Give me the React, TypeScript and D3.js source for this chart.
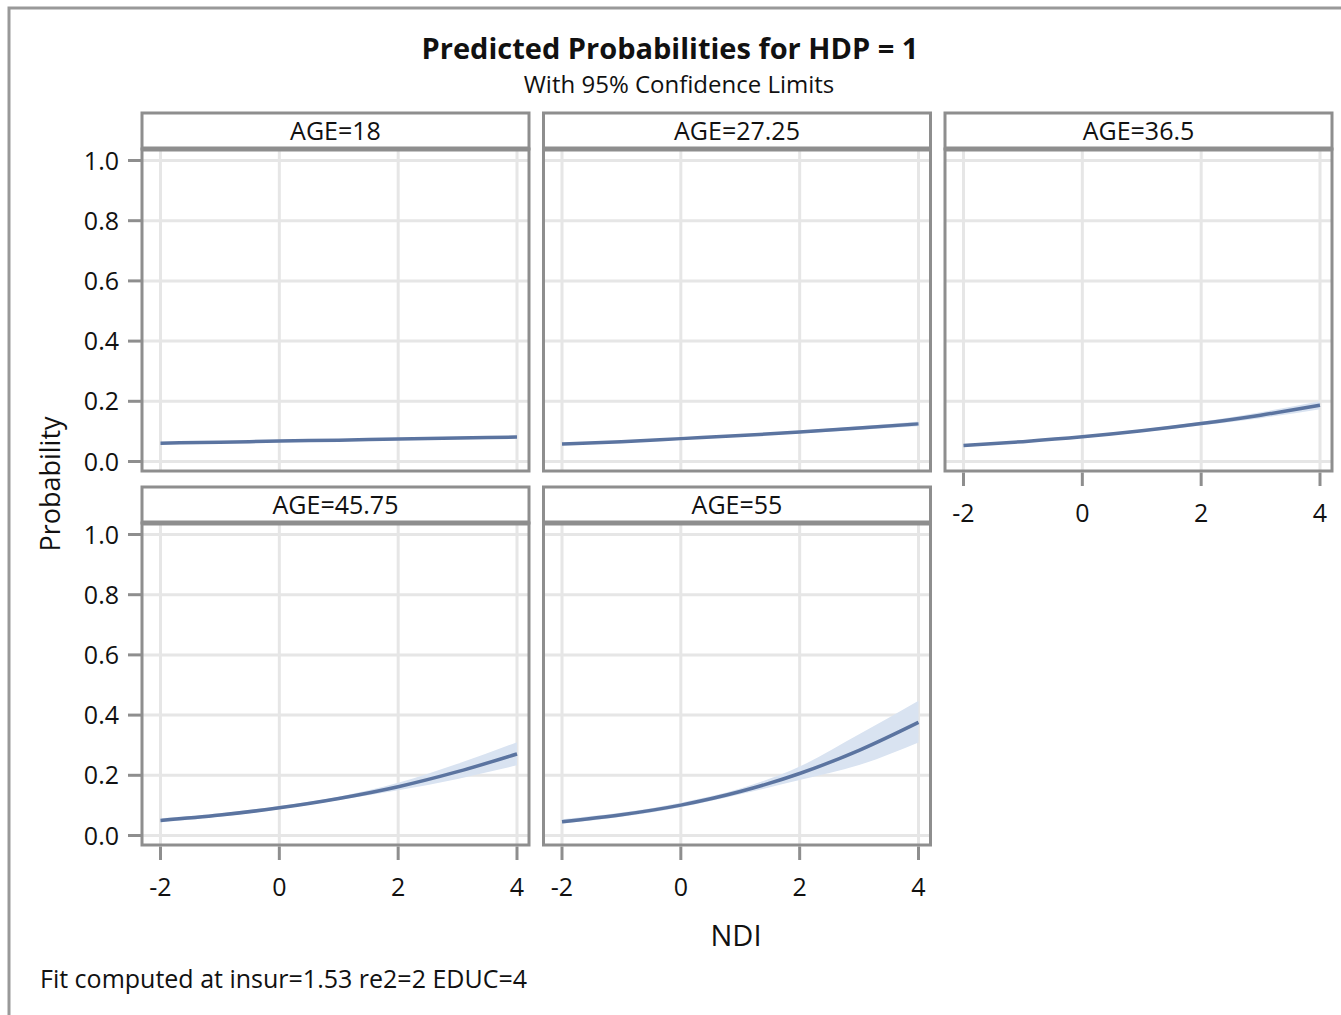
import React from 'react';
import * as d3 from 'd3';

// values (NDI on x, predicted probability on y)
const ndi = [-2, -1, 0, 1, 2, 3, 4];
const ageLabels = ['AGE=18', 'AGE=27.25', 'AGE=36.5', 'AGE=45.75', 'AGE=55'];
const predicted = [
  [0.061, 0.064, 0.068, 0.071, 0.075, 0.078, 0.081],
  [0.058, 0.066, 0.076, 0.086, 0.098, 0.111, 0.125],
  [0.053, 0.066, 0.082, 0.102, 0.126, 0.154, 0.187],
  [0.05, 0.068, 0.092, 0.123, 0.162, 0.212, 0.271],
  [0.046, 0.069, 0.101, 0.146, 0.206, 0.283, 0.376],
];
const lowerCL = [
  [0.058, 0.062, 0.066, 0.069, 0.072, 0.074, 0.076],
  [0.055, 0.064, 0.074, 0.083, 0.094, 0.105, 0.117],
  [0.049, 0.063, 0.079, 0.098, 0.12, 0.144, 0.174],
  [0.044, 0.062, 0.087, 0.118, 0.15, 0.188, 0.233],
  [0.039, 0.062, 0.094, 0.137, 0.184, 0.234, 0.309],
];
const upperCL = [
  [0.064, 0.066, 0.07, 0.073, 0.078, 0.082, 0.086],
  [0.061, 0.068, 0.078, 0.089, 0.102, 0.117, 0.133],
  [0.057, 0.069, 0.085, 0.106, 0.132, 0.164, 0.2],
  [0.057, 0.074, 0.098, 0.129, 0.175, 0.238, 0.31],
  [0.054, 0.076, 0.109, 0.156, 0.229, 0.336, 0.448],
];
const xTicks = [-2, 0, 2, 4];
const yTicks = [0, 0.2, 0.4, 0.6, 0.8, 1.0];

const W = 1341;
const H = 1015;
const FONT = '"Open Sans", "Noto Sans", sans-serif';
const BORDER = '#8e8e8e';
const GRID = '#e6e6e6';
const LINE = '#5b74a0';
const BAND = '#d9e3f1';
const INK = '#111';

const colLeft = [142, 543.5, 945];
const rowTop = [113, 487];
const panelW = 387;
const headerH = 36;
const plotH = 322;

function Panel({ i }: { i: number }) {
  const col = i % 3;
  const row = Math.floor(i / 3);
  const x0 = colLeft[col];
  const top = rowTop[row];
  const py0 = top + headerH;
  const py1 = py0 + plotH;

  const x = d3.scaleLinear().domain([-2, 4]).range([x0 + 18.5, x0 + panelW - 12]);
  const y = d3.scaleLinear().domain([0, 1]).range([py1 - 9.5, py0 + 11.5]);

  const pts = ndi.map((v, k) => ({ x: v, p: predicted[i][k], lo: lowerCL[i][k], hi: upperCL[i][k] }));
  const line = d3
    .line<any>()
    .x((d) => x(d.x))
    .y((d) => y(d.p))
    .curve(d3.curveMonotoneX);
  const area = d3
    .area<any>()
    .x((d) => x(d.x))
    .y0((d) => y(d.lo))
    .y1((d) => y(d.hi))
    .curve(d3.curveMonotoneX);

  const showY = col === 0;
  const showX = row === 1 || col === 2;
  const clipId = 'clip' + i;

  return (
    <g>
      <clipPath id={clipId}>
        <rect x={x0} y={py0} width={panelW} height={plotH} />
      </clipPath>
      {/* grid */}
      {xTicks.map((t) => (
        <line key={'gx' + t} x1={x(t)} x2={x(t)} y1={py0} y2={py1} stroke={GRID} strokeWidth={3} />
      ))}
      {yTicks.map((t) => (
        <line key={'gy' + t} x1={x0} x2={x0 + panelW} y1={y(t)} y2={y(t)} stroke={GRID} strokeWidth={3} />
      ))}
      <g clipPath={`url(#${clipId})`}>
        <path d={area(pts) || ''} fill={BAND} />
        <path d={line(pts) || ''} fill="none" stroke={LINE} strokeWidth={3.5} />
      </g>
      {/* header strip */}
      <rect x={x0} y={top} width={panelW} height={headerH} fill="white" stroke={BORDER} strokeWidth={3} />
      <text x={x0 + panelW / 2} y={top + 27} textAnchor="middle" fontSize={25} fontFamily={FONT} fill={INK}>
        {ageLabels[i]}
      </text>
      <rect x={x0} y={py0} width={panelW} height={plotH} fill="none" stroke={BORDER} strokeWidth={3} />
      <line x1={x0} x2={x0 + panelW} y1={py0} y2={py0} stroke={BORDER} strokeWidth={5} />
      {showY &&
        yTicks.map((t) => (
          <g key={'ty' + t}>
            <line x1={x0 - 14} x2={x0} y1={y(t)} y2={y(t)} stroke={BORDER} strokeWidth={3} />
            <text x={x0 - 23} y={y(t) + 9} textAnchor="end" fontSize={25} fontFamily={FONT} fill={INK}>
              {d3.format('.1f')(t)}
            </text>
          </g>
        ))}
      {showX &&
        xTicks.map((t) => (
          <g key={'tx' + t}>
            <line x1={x(t)} x2={x(t)} y1={py1 + 1.5} y2={py1 + 15} stroke={BORDER} strokeWidth={3} />
            <text x={x(t)} y={py1 + 51} textAnchor="middle" fontSize={25} fontFamily={FONT} fill={INK}>
              {String(t)}
            </text>
          </g>
        ))}
    </g>
  );
}

export default function App() {
  return (
    <svg width={W} height={H} style={{ position: 'absolute', left: 0, top: 0, background: 'white' }}>
      <rect x={0} y={0} width={W} height={H} fill="white" />
      <rect x={9} y={8} width={W + 20} height={H + 20} fill="none" stroke="#999" strokeWidth={3} />
      <text x={670} y={59} textAnchor="middle" fontSize={29} fontWeight="bold" fontFamily={FONT} fill={INK}>
        Predicted Probabilities for HDP = 1
      </text>
      <text x={679} y={93} textAnchor="middle" fontSize={24} fontFamily={FONT} fill={INK}>
        With 95% Confidence Limits
      </text>
      {ageLabels.map((_, i) => (
        <Panel key={i} i={i} />
      ))}
      <text
        transform="translate(60,484) rotate(-90)"
        textAnchor="middle"
        fontSize={27}
        fontFamily={FONT}
        fill={INK}
      >
        Probability
      </text>
      <text x={736} y={946} textAnchor="middle" fontSize={29} fontFamily={FONT} fill={INK}>
        NDI
      </text>
      <text x={40} y={988} fontSize={25} fontFamily={FONT} fill={INK}>
        Fit computed at insur=1.53 re2=2 EDUC=4
      </text>
    </svg>
  );
}
